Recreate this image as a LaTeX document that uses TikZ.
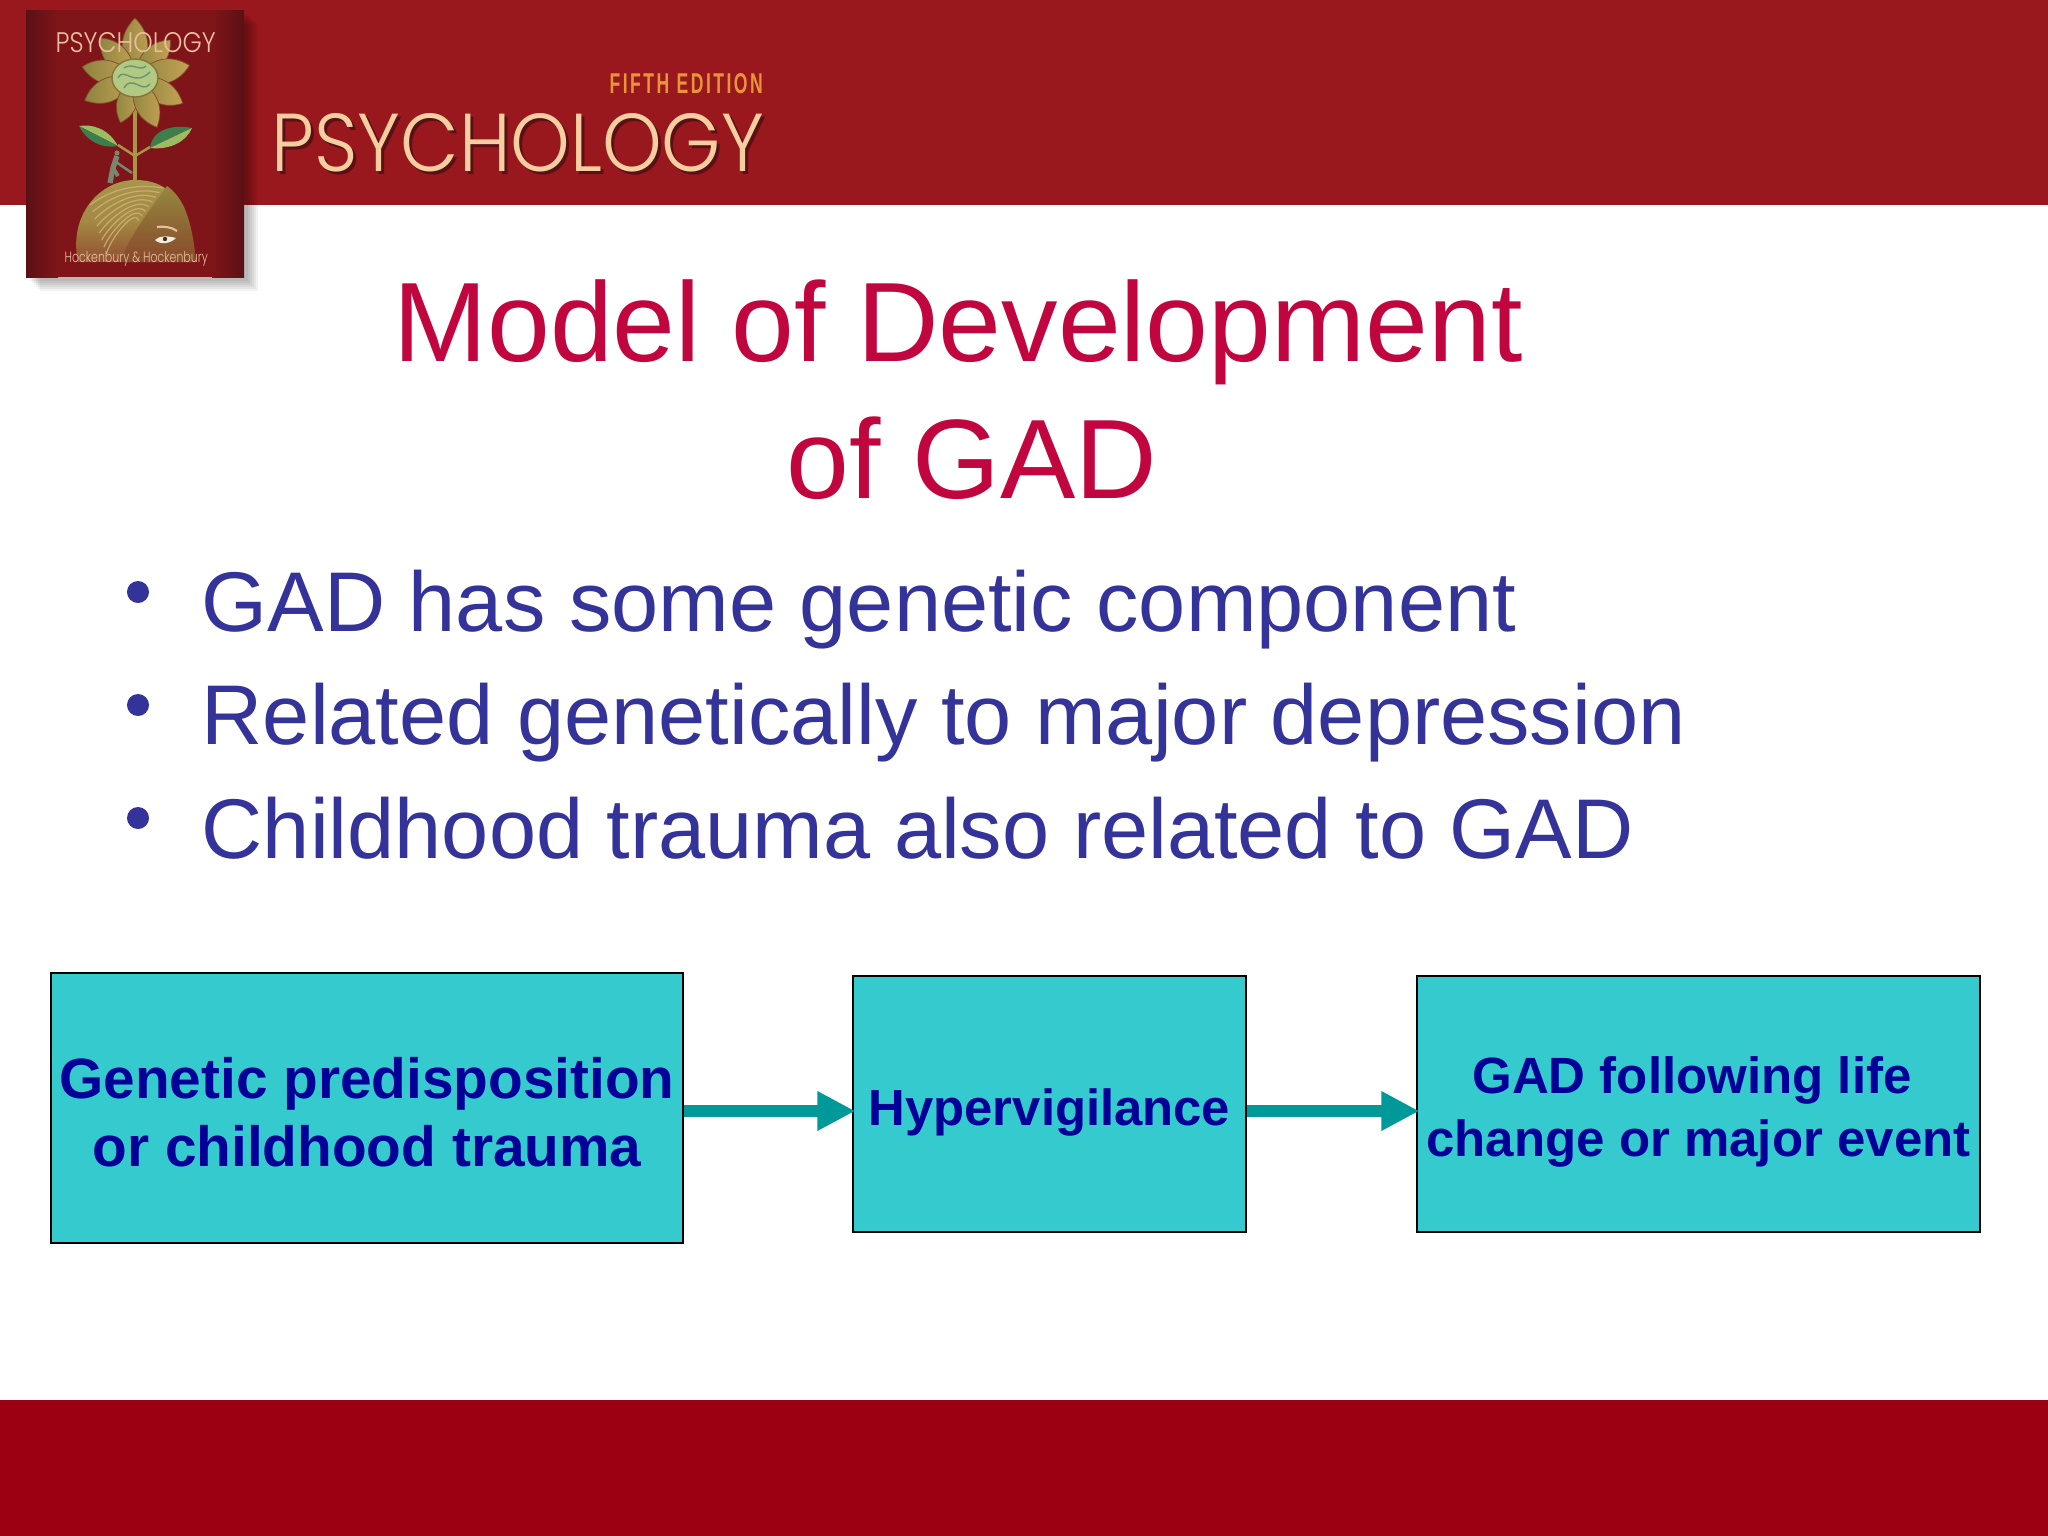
\documentclass[tikz,border=0pt]{standalone}
\usepackage{fontspec}
\setmainfont{Liberation Sans}
\newfontfamily\logofont{Poppins Light}
\usetikzlibrary{arrows.meta, positioning}
\definecolor{bandtop}{HTML}{98181D}
\definecolor{bandbottom}{HTML}{9B0012}
\definecolor{titlered}{HTML}{C1063F}
\definecolor{bulletblue}{HTML}{333399}
\definecolor{boxteal}{HTML}{35CBCE}
\definecolor{boxtext}{HTML}{000099}
\definecolor{arrowteal}{HTML}{009999}
\definecolor{bookred}{HTML}{7F1519}
\definecolor{bookdark}{HTML}{5A1015}
\definecolor{petaltan}{HTML}{C4A253}
\definecolor{petalolive}{HTML}{8C8440}
\definecolor{leaflight}{HTML}{9DBB63}
\definecolor{leafdark}{HTML}{3F7D4C}
\definecolor{hairtan}{HTML}{A8954A}
\definecolor{facetan}{HTML}{94883F}
\definecolor{logotan}{HTML}{F6CFA0}
\definecolor{coverpink}{HTML}{E9BFA0}
\definecolor{editionorange}{HTML}{E8953A}
\definecolor{climbergray}{HTML}{7A8770}
\tikzset{
  titletext/.style={text=titlered, font=\fontsize{32.1}{32.1}\selectfont, inner sep=0, anchor=base},
  itemtext/.style={text=bulletblue, font=\fontsize{24.1}{24.1}\selectfont, inner sep=0, anchor=base west},
  itemdot/.style={circle, fill=bulletblue, inner sep=0, minimum size=0.22cm},
  stagebox/.style={rectangle, draw=black, line width=0.6pt, fill=boxteal, inner sep=0},
  stagetext/.style={text=boxtext, inner sep=0, align=center},
  stagearrow/.style={-{Triangle[length=0.38cm, width=0.37cm]}, draw=arrowteal, fill=arrowteal, line width=0.125cm, shorten >=-1pt},
  logotext/.style={inner sep=0, anchor=south west},
  petal/.style={left color=petalolive, right color=petaltan, draw=bookdark!60!petaltan, line width=0.2pt}
}

\begin{document}
\begin{tikzpicture}[x=0.01cm, y=-0.01cm]
  \useasboundingbox (0, 0) rectangle (2048, 1536);
  \fill[white](0, 0) rectangle (2048, 1536);

  % bands
  \fill[bandtop](0, 0) rectangle (2048, 205);
  \fill[bandbottom](0, 1400) rectangle (2048, 1536);

  % logo
  \node[logotext, text=bookdark](logoshadow) at (274, 176){\resizebox{4.92cm}{0.58cm}{\logofont PSYCHOLOGY}};
  \node[logotext, text=logotan](logo) at (271, 173){\resizebox{4.92cm}{0.58cm}{\logofont PSYCHOLOGY}};
  \node[logotext, text=editionorange](edition) at (609, 94){\resizebox{1.53cm}{0.20cm}{\addfontfeature{LetterSpace=14}\bfseries FIFTH EDITION}};

  % book cover
  \foreach \off in {14, 12, 10, 8, 6, 4}
    \fill[black, opacity=0.05](26+\off, 10+\off) rectangle (244+\off, 277+\off);
  \fill[bookred](26, 10) rectangle (244, 277);
  \shade[left color=bookdark, right color=bookred](26, 10) rectangle (58, 277);
  \shade[left color=bookred, right color=bookdark](212, 10) rectangle (244, 277);

  % stem and leaves
  \draw[hairtan, line width=1.2pt](135, 100)--(135, 180);
  \draw[hairtan, line width=0.7pt](135, 156)--(118, 145);
  \draw[hairtan, line width=0.7pt](135, 156)--(150, 147);
  \fill[leaflight](118, 146) .. controls (108, 128) and (92, 124) .. (79, 126) -- cycle;
  \fill[leafdark](118, 146) .. controls (100, 149) and (86, 140) .. (79, 126) -- cycle;
  \fill[leafdark](150, 148) .. controls (152, 130) and (172, 124) .. (192, 128) -- cycle;
  \fill[leaflight](150, 148) .. controls (170, 150) and (186, 142) .. (192, 128) -- cycle;

  % flower
  \foreach \ang/\len in {90/60, 131/53, 47/52, 168/54, 13/56, 204/55, 332/54, 252/47, 294/54}
    \shade[petal, shift={(135, 78)}, rotate=\ang](0, 0) .. controls (0.4*\len, 0.32*\len) and (0.75*\len, 0.25*\len) .. (\len, 0) .. controls (0.75*\len, -0.25*\len) and (0.4*\len, -0.32*\len) .. (0, 0);
  \fill[leaflight!80!white, draw=petaltan!70!black, line width=0.4pt](135, 78) ellipse (23 and 19);
  \draw[leafdark!80!white, line width=0.4pt](118, 78) .. controls (124, 66) and (134, 88) .. (150, 72);
  \draw[leafdark!80!white, line width=0.4pt](124, 88) .. controls (132, 74) and (142, 94) .. (150, 84);
  \draw[leafdark!80!white, line width=0.4pt](124, 68) .. controls (132, 62) and (140, 72) .. (146, 66);

  % head and climber
  \shade[top color=hairtan, bottom color=hairtan!45!bookred, middle color=hairtan!90!bookred](78, 262) .. controls (68, 215) and (100, 180) .. (135, 180) .. controls (172, 180) and (190, 205) .. (196, 262) -- cycle;
  \shade[top color=facetan, bottom color=bookred!55!facetan](167, 186) .. controls (150, 210) and (130, 235) .. (120, 262) -- (196, 262) .. controls (192, 220) and (184, 198) .. (167, 186) -- cycle;
  \foreach \dy in {0, 7, ..., 49}
    \draw[petaltan!80!white, line width=0.35pt, opacity=0.8](90+\dy/3, 205+\dy) .. controls (110, 190+\dy) and (135, 183+\dy/2) .. (163-\dy/2, 188+\dy/1.5);
  \draw[coverpink, line width=0.6pt](157, 227) .. controls (163, 226) and (172, 227) .. (177, 231);
  \fill[white!85!facetan](155, 240) .. controls (160, 235) and (168, 236) .. (176, 238) .. controls (170, 244) and (160, 245) .. cycle;
  \fill[black!60!facetan](165, 239) circle (2.2);
  \fill[climbergray](117, 153) circle (2.6);
  \draw[climbergray, line width=1.5pt](117, 156)--(113, 168)--(110, 183);
  \draw[climbergray, line width=1.1pt](113, 168)--(118, 176);
  \draw[climbergray, line width=0.7pt](116, 162)--(132, 173);

  % cover texts
  \node[logotext, text=coverpink](covertitle) at (55, 53){\resizebox{1.60cm}{0.20cm}{\logofont PSYCHOLOGY}};
  \node[logotext, text=coverpink](coverauthors) at (64, 267){\resizebox{1.43cm}{0.11cm}{\logofont Hockenbury \& Hockenbury}};

  % heading
  \node[titletext](title1) at (958, 361){Model of Development};
  \node[titletext](title2) at (972, 498){of GAD};

  % items
  \node[itemdot](dot1) at (138, 592){};
  \node[itemdot](dot2) at (138, 705){};
  \node[itemdot](dot3) at (138, 818){};
  \node[itemtext](item1) at (201, 631){GAD has some genetic component};
  \node[itemtext](item2) at (201, 744){Related genetically to major depression};
  \node[itemtext](item3) at (201, 858){Childhood trauma also related to GAD};

  % model
  \coordinate (flowline) at (0, 1111);
  \node[stagebox, minimum width=6.32cm, minimum height=2.70cm](genetic) at (367, 1108){};
  \node[stagebox, minimum width=3.93cm, minimum height=2.56cm](hyper) at (1049.5, 1104){};
  \node[stagebox, minimum width=5.63cm, minimum height=2.56cm](gadlife) at (1698.5, 1104){};
  \node[stagetext, font=\bfseries\fontsize{16.15}{19.4}\selectfont](genetictext) at ([yshift=-0.04cm]genetic.center){Genetic predisposition\\or childhood trauma};
  \node[stagetext, font=\bfseries\fontsize{14.45}{17.7}\selectfont](hypertext) at ([yshift=-0.08cm]hyper.center){Hypervigilance};
  \node[stagetext, font=\bfseries\fontsize{14.5}{17.7}\selectfont](gadlifetext) at ([yshift=-0.08cm]gadlife.center){GAD following life\hspace*{0.13cm}\\change or major event};
  \draw[stagearrow](genetic.east|-flowline)--(hyper.west|-flowline);
  \draw[stagearrow](hyper.east|-flowline)--(gadlife.west|-flowline);
\end{tikzpicture}
\end{document}
